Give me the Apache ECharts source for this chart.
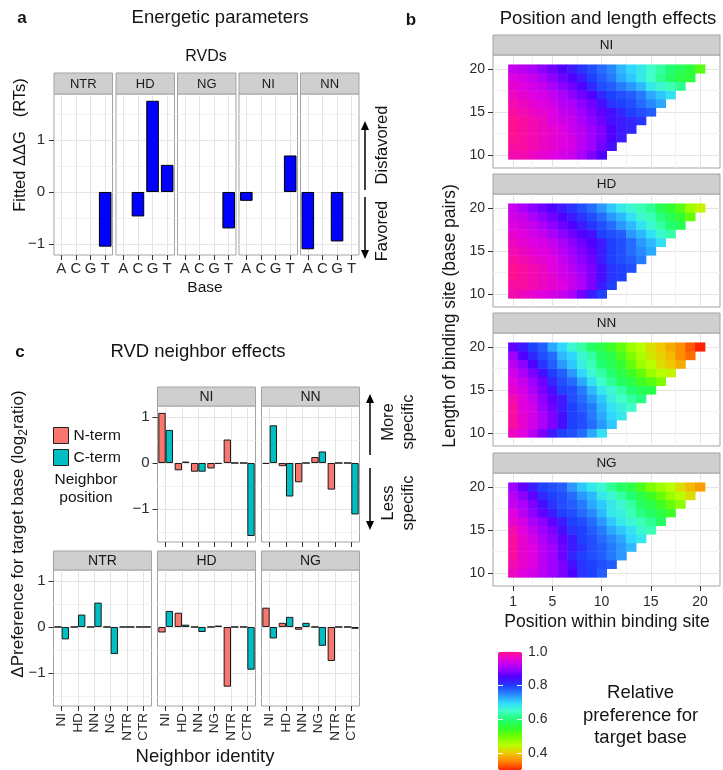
<!DOCTYPE html>
<html><head><meta charset="utf-8">
<script src="https://cdn.jsdelivr.net/npm/echarts@6/dist/echarts.min.js"></script>
<style>html,body{margin:0;padding:0;background:#fff}#c{width:723px;height:770px}</style>
</head><body><div id="c"></div>
<script>
const FONT = '"Liberation Sans", Arial, Helvetica, sans-serif';

// ---------- Panel a: fitted ddG per RVD (bases A,C,G,T) ----------
const bases = ['A','C','G','T'];
const rvdsA = ['NTR','HD','NG','NI','NN'];
const ddgNTR = [null, null, null, -1.05];
const ddgHD  = [null, -0.47, 1.75, 0.52];
const ddgNG  = [null, null, null, -0.70];
const ddgNI  = [-0.17, null, null, 0.70];
const ddgNN  = [-1.10, null, -0.95, null];
const aTicks = [-1, 0, 1];

// ---------- Panel c: neighbor effects ----------
const neighbors = ['NI','HD','NN','NG','NTR','CTR'];
const nNI  = [1.09, -0.16, -0.19, -0.12, 0.51, 0];
const cNI  = [0.72, 0.03, -0.19, -0.02, 0, -1.59];
const nNN  = [-0.02, -0.07, -0.42, 0.13, -0.58, 0];
const cNN  = [0.82, -0.73, 0, 0.25, 0, -1.12];
const nNTR = [0, 0, 0, 0, 0, 0];
const cNTR = [-0.27, 0.27, 0.53, -0.59, 0, 0];
const nHD  = [-0.12, 0.31, 0, 0, -1.30, 0];
const cHD  = [0.35, 0.05, -0.11, 0.03, 0, -0.93];
const nNG  = [0.42, 0.09, -0.06, 0, -0.74, 0];
const cNG  = [-0.25, 0.22, 0.09, -0.41, 0, -0.04];
const cTicks = [-1, 0, 1];

// ---------- Panel b: relative preference; rows = length 10..20, cols = position 1..length ----------
const heatNI = [
 [0.98,0.98,0.97,0.96,0.95,0.94,0.93,0.91,0.88,0.85],
 [0.99,0.99,0.98,0.97,0.96,0.95,0.94,0.92,0.90,0.87,0.84],
 [1.00,0.99,0.98,0.97,0.96,0.95,0.94,0.92,0.90,0.88,0.85,0.83],
 [1.00,0.99,0.98,0.97,0.96,0.95,0.93,0.92,0.90,0.88,0.85,0.83,0.82],
 [1.00,0.99,0.98,0.97,0.95,0.94,0.93,0.91,0.89,0.87,0.84,0.83,0.82,0.81],
 [0.99,0.98,0.97,0.96,0.95,0.93,0.92,0.90,0.88,0.86,0.84,0.82,0.80,0.79,0.78],
 [0.98,0.97,0.96,0.95,0.94,0.92,0.91,0.89,0.87,0.84,0.81,0.80,0.79,0.77,0.75,0.73],
 [0.97,0.96,0.95,0.94,0.93,0.91,0.89,0.87,0.85,0.82,0.80,0.79,0.78,0.76,0.73,0.71,0.69],
 [0.96,0.95,0.94,0.93,0.91,0.89,0.87,0.85,0.82,0.79,0.78,0.76,0.74,0.72,0.68,0.66,0.64,0.62],
 [0.95,0.94,0.93,0.91,0.89,0.87,0.85,0.83,0.80,0.78,0.76,0.73,0.71,0.68,0.65,0.62,0.59,0.57,0.56],
 [0.93,0.92,0.91,0.89,0.87,0.85,0.83,0.81,0.79,0.77,0.75,0.72,0.70,0.68,0.65,0.63,0.60,0.58,0.56,0.52]
];
const heatHD = [
 [0.98,0.97,0.96,0.95,0.94,0.93,0.91,0.87,0.83,0.80],
 [0.99,0.99,0.98,0.97,0.96,0.95,0.93,0.91,0.88,0.83,0.80],
 [1.00,0.99,0.98,0.97,0.96,0.94,0.93,0.91,0.88,0.84,0.81,0.80],
 [1.00,0.99,0.98,0.97,0.95,0.94,0.92,0.90,0.88,0.84,0.81,0.80,0.79],
 [0.99,0.98,0.97,0.96,0.95,0.93,0.91,0.89,0.87,0.83,0.80,0.79,0.78,0.76],
 [0.98,0.97,0.96,0.95,0.94,0.92,0.90,0.88,0.86,0.83,0.80,0.79,0.77,0.75,0.73],
 [0.97,0.96,0.95,0.94,0.93,0.91,0.89,0.87,0.85,0.83,0.80,0.79,0.77,0.74,0.72,0.69],
 [0.96,0.95,0.94,0.93,0.91,0.89,0.87,0.85,0.84,0.80,0.79,0.78,0.74,0.72,0.69,0.66,0.63],
 [0.95,0.94,0.93,0.91,0.89,0.87,0.85,0.83,0.81,0.79,0.77,0.74,0.72,0.69,0.66,0.63,0.60,0.58],
 [0.94,0.93,0.91,0.89,0.87,0.85,0.83,0.81,0.79,0.77,0.74,0.72,0.69,0.66,0.64,0.61,0.58,0.55,0.51],
 [0.93,0.91,0.89,0.87,0.85,0.83,0.81,0.79,0.77,0.74,0.71,0.68,0.66,0.64,0.62,0.58,0.55,0.52,0.47,0.44]
];
const heatNN = [
 [0.97,0.95,0.92,0.88,0.83,0.80,0.79,0.77,0.73,0.69],
 [0.99,0.96,0.94,0.91,0.88,0.84,0.80,0.79,0.77,0.74,0.71],
 [0.99,0.96,0.94,0.91,0.88,0.84,0.80,0.79,0.76,0.73,0.70,0.68],
 [0.99,0.95,0.94,0.90,0.87,0.83,0.80,0.78,0.76,0.72,0.69,0.67,0.65],
 [0.98,0.95,0.93,0.89,0.86,0.83,0.79,0.77,0.74,0.71,0.67,0.65,0.63,0.61],
 [0.96,0.94,0.91,0.88,0.84,0.80,0.79,0.76,0.72,0.68,0.66,0.63,0.60,0.58,0.57],
 [0.95,0.93,0.90,0.87,0.82,0.79,0.77,0.73,0.69,0.65,0.62,0.59,0.57,0.54,0.52,0.49],
 [0.94,0.91,0.88,0.84,0.80,0.78,0.74,0.70,0.66,0.63,0.60,0.57,0.54,0.51,0.47,0.45,0.44],
 [0.92,0.89,0.85,0.81,0.78,0.74,0.71,0.67,0.64,0.60,0.58,0.55,0.51,0.47,0.45,0.42,0.40,0.38],
 [0.90,0.85,0.82,0.79,0.77,0.72,0.70,0.66,0.63,0.59,0.57,0.53,0.49,0.46,0.43,0.41,0.39,0.36,0.34],
 [0.86,0.83,0.80,0.78,0.73,0.70,0.66,0.63,0.59,0.57,0.54,0.51,0.47,0.45,0.42,0.40,0.38,0.36,0.33,0.30]
];
const heatNG = [
 [0.97,0.95,0.94,0.92,0.90,0.88,0.85,0.81,0.80,0.78],
 [0.98,0.96,0.95,0.92,0.90,0.88,0.84,0.81,0.80,0.79,0.78],
 [0.99,0.96,0.95,0.92,0.90,0.87,0.82,0.80,0.79,0.78,0.76,0.74],
 [0.99,0.96,0.95,0.92,0.90,0.87,0.83,0.81,0.79,0.78,0.76,0.74,0.72],
 [0.99,0.96,0.94,0.91,0.89,0.86,0.83,0.80,0.79,0.77,0.75,0.73,0.70,0.68],
 [0.98,0.95,0.93,0.90,0.88,0.84,0.81,0.80,0.78,0.76,0.73,0.71,0.69,0.66,0.64],
 [0.96,0.94,0.91,0.89,0.86,0.83,0.80,0.79,0.77,0.74,0.71,0.68,0.66,0.64,0.62,0.59],
 [0.95,0.92,0.89,0.86,0.83,0.80,0.79,0.77,0.75,0.72,0.68,0.67,0.64,0.61,0.59,0.57,0.54],
 [0.93,0.91,0.88,0.84,0.81,0.79,0.78,0.76,0.73,0.71,0.68,0.66,0.63,0.59,0.57,0.54,0.51,0.48],
 [0.92,0.89,0.86,0.82,0.80,0.79,0.77,0.74,0.72,0.68,0.66,0.63,0.60,0.57,0.54,0.51,0.47,0.45,0.42],
 [0.90,0.86,0.83,0.80,0.79,0.78,0.74,0.71,0.68,0.66,0.62,0.59,0.57,0.53,0.49,0.47,0.45,0.42,0.39,0.37]
];
const lengths = [10,11,12,13,14,15,16,17,18,19,20];
const posTicks = [1,5,10,15,20];
const lenTicks = [10,15,20];
const barTicks = [0.4,0.6,0.8,1.0];
const RAMP = ['#ff2000','#ff8000','#f0c800','#b8ff00','#70ff00','#30ff30','#20ff70','#40ffc8',
              '#30d8ff','#2888ff','#2040ff','#5000ff','#a000ff','#e000e0','#ff1090'];

// ---------- styling ----------
const BORDER = '#a3a3a3', STRIP = '#cfcfcf', GRIDMAJ = '#e4e4e4', GRIDMIN = '#f2f2f2';
const TICK = '#333', LABEL = '#2b2b2b';
const grids = [], xAxes = [], yAxes = [], series = [], gfx = [];
const fmtNum = v => (v < 0 ? '\u2212' + Math.abs(v) : String(v));

function textEl(x, y, text, size, o) {
  o = o || {};
  const st = {text: text, fontSize: size, fontFamily: FONT, fill: o.color || '#141414',
    align: o.align || 'center', verticalAlign: 'middle', fontWeight: o.bold ? 'bold' : 'normal'};
  if (o.lh) st.lineHeight = o.lh;
  if (o.rich) st.rich = o.rich;
  return {type: 'text', x: x, y: y, rotation: o.rot || 0, z: 100, silent: true, style: st};
}
function strip(l, t, w, h, label, size) {
  gfx.push({type: 'rect', z: 50, silent: true, shape: {x: l, y: t, width: w, height: h},
    style: {fill: STRIP, stroke: BORDER, lineWidth: 1}});
  gfx.push(textEl(l + w / 2, t + h / 2 + 0.5, label, size, {color: '#1a1a1a'}));
}
function arrow(x, yTail, yTip) {
  const d = yTip < yTail ? -1 : 1;
  gfx.push({type: 'line', silent: true, shape: {x1: x, y1: yTail, x2: x, y2: yTip - d * 6}, style: {stroke: '#000', lineWidth: 1.5}});
  gfx.push({type: 'polygon', silent: true, shape: {points: [[x, yTip], [x - 4, yTip - d * 9], [x + 4, yTip - d * 9]]}, style: {fill: '#000'}});
}
function addGrid(l, t, w, h, show) {
  grids.push({left: l, top: t, width: w, height: h, show: show !== false, borderColor: BORDER, borderWidth: 1,
    backgroundColor: '#fff', containLabel: false, outerBoundsMode: 'none'});
  return grids.length - 1;
}
function addValueAxes(dim, gi, min, max, major, minor, o) {
  const list = dim === 'x' ? xAxes : yAxes;
  list.push({type: 'value', gridIndex: gi, min: min, max: max, position: dim === 'x' ? 'bottom' : 'left',
    axisLine: {show: false, onZero: false},
    axisTick: {show: !!o.tick, customValues: major, length: o.tickLen || 4, lineStyle: {color: TICK}},
    axisLabel: {show: !!o.label, customValues: major, formatter: o.fmt || fmtNum, fontSize: o.fs || 14,
      color: LABEL, margin: o.margin || 6, fontFamily: FONT},
    splitLine: {show: true, lineStyle: {color: GRIDMAJ, width: 1}}});
  const idx = list.length - 1;
  list.push({type: 'value', gridIndex: gi, min: min, max: max, position: dim === 'x' ? 'top' : 'right',
    axisLine: {show: false, onZero: false}, axisTick: {show: false, customValues: minor}, axisLabel: {show: false},
    splitLine: {show: true, lineStyle: {color: GRIDMIN, width: 1}}});
  return idx;
}
function addCatAxis(gi, cats, o) {
  xAxes.push({type: 'category', gridIndex: gi, data: cats, boundaryGap: true, position: 'bottom',
    axisLine: {show: false, onZero: false},
    axisTick: {show: true, alignWithLabel: true, length: o.tickLen || 4, lineStyle: {color: TICK}},
    axisLabel: {show: !!o.label, interval: 0, rotate: o.rot || 0, fontSize: o.fs || 14, color: LABEL,
      margin: o.margin || 6, fontFamily: FONT},
    splitLine: {show: false}});
  const idx = xAxes.length - 1;
  const centers = cats.map((_, i) => i);
  xAxes.push({type: 'value', gridIndex: gi, min: -0.5, max: cats.length - 0.5, position: 'top',
    axisLine: {show: false, onZero: false}, axisTick: {show: false, customValues: centers}, axisLabel: {show: false},
    splitLine: {show: true, lineStyle: {color: GRIDMAJ, width: 1}}});
  return idx;
}

// ---------- Panel a ----------
const aData = [ddgNTR, ddgHD, ddgNG, ddgNI, ddgNN];
const aLefts = [54, 116, 177.5, 239, 300.5], aW = 58.5, aTop = 94, aH = 161;
rvdsA.forEach((name, i) => {
  const gi = addGrid(aLefts[i], aTop, aW, aH);
  const xi = addCatAxis(gi, bases, {label: true, fs: 15, margin: 6, tickLen: 5});
  const yi = addValueAxes('y', gi, -1.21, 1.88, aTicks, [-0.5, 0.5, 1.5],
    {label: i === 0, tick: i === 0, fs: 15, margin: 9, tickLen: 5});
  series.push({type: 'bar', name: 'ddG ' + name, xAxisIndex: xi, yAxisIndex: yi, data: aData[i], barWidth: '86%',
    silent: true, itemStyle: {color: '#0000ff', borderColor: '#000', borderWidth: 1}});
  strip(aLefts[i], 73, aW, 21, name, 13);
});

// ---------- Panel c ----------
const cCols = [53.5, 157.5, 261.5], cW = 98, cRowTop = [406, 570], cH = 136;
const cPanels = [
  {name: 'NI', col: 1, row: 0, n: nNI, c: cNI},
  {name: 'NN', col: 2, row: 0, n: nNN, c: cNN},
  {name: 'NTR', col: 0, row: 1, n: nNTR, c: cNTR},
  {name: 'HD', col: 1, row: 1, n: nHD, c: cHD},
  {name: 'NG', col: 2, row: 1, n: nNG, c: cNG}
];
cPanels.forEach(p => {
  const l = cCols[p.col], t = cRowTop[p.row];
  const gi = addGrid(l, t, cW, cH);
  const xi = addCatAxis(gi, neighbors, {label: p.row === 1, rot: 90, fs: 13.5, margin: 7, tickLen: 5});
  const firstCol = (p.row === 0 && p.col === 1) || (p.row === 1 && p.col === 0);
  const yi = addValueAxes('y', gi, -1.72, 1.24, cTicks, [-1.5, -0.5, 0.5],
    {label: firstCol, tick: firstCol, fs: 15, margin: 8, tickLen: 5});
  const bs = {type: 'bar', xAxisIndex: xi, yAxisIndex: yi, barWidth: '45%', barGap: '0%', silent: true};
  series.push(Object.assign({}, bs, {name: 'N-term', data: p.n, itemStyle: {color: '#f8766d', borderColor: '#1a1a1a', borderWidth: 1}}));
  series.push(Object.assign({}, bs, {name: 'C-term', data: p.c, itemStyle: {color: '#00bfc4', borderColor: '#1a1a1a', borderWidth: 1}}));
  strip(l, t - 19, cW, 19, p.name, 14);
});

// ---------- Panel b ----------
const bPanels = [{name: 'NI', rows: heatNI}, {name: 'HD', rows: heatHD}, {name: 'NN', rows: heatNN}, {name: 'NG', rows: heatNG}];
const bTops = [55, 194, 333, 473], bL = 493, bW = 227, bH = 113;
const heatIdx = [];
function renderCell(params, api) {
  const x = api.value(0), y = api.value(1);
  const p1 = api.coord([x - 0.5, y + 0.5]), p2 = api.coord([x + 0.5, y - 0.5]);
  return {type: 'rect', shape: {x: p1[0], y: p1[1], width: p2[0] - p1[0] + 0.5, height: p2[1] - p1[1] + 0.5},
    style: {fill: api.visual('color')}};
}
bPanels.forEach((p, i) => {
  const gi = addGrid(bL, bTops[i], bW, bH);
  const last = i === bPanels.length - 1;
  const xi = addValueAxes('x', gi, -1.04, 22.04, posTicks, [3, 7.5, 12.5, 17.5],
    {label: last, tick: last, fs: 14, margin: 9, tickLen: 5, fmt: v => String(v)});
  const yi = addValueAxes('y', gi, 8.47, 21.6, lenTicks, [12.5, 17.5],
    {label: true, tick: true, fs: 14, margin: 8, tickLen: 5, fmt: v => String(v)});
  const data = [];
  p.rows.forEach((row, r) => row.forEach((v, k) => data.push([k + 1, lengths[r], v])));
  series.push({type: 'custom', name: 'heat ' + p.name, coordinateSystem: 'cartesian2d', xAxisIndex: xi, yAxisIndex: yi,
    renderItem: renderCell, encode: {x: 0, y: 1}, data: data, silent: true, z: 3});
  heatIdx.push(series.length - 1);
  strip(bL, bTops[i] - 20, bW, 20, p.name, 13.5);
});

// ---------- colour bar axis ----------
const cbTop = 651.7, cbH = 118.7;
{
  const gi = addGrid(498, cbTop, 24, cbH, false);
  xAxes.push({type: 'value', gridIndex: gi, show: false, min: 0, max: 1});
  yAxes.push({type: 'value', gridIndex: gi, min: 0.3, max: 1.0, position: 'right', z: 10,
    axisLine: {show: false, onZero: false},
    axisTick: {show: true, inside: true, length: 5, customValues: barTicks, lineStyle: {color: '#fff'}},
    axisLabel: {show: true, customValues: barTicks, formatter: v => v.toFixed(1), fontSize: 14, color: LABEL, margin: 6, fontFamily: FONT},
    splitLine: {show: false}});
  yAxes.push({type: 'value', gridIndex: gi, min: 0.3, max: 1.0, position: 'left', z: 10,
    axisLine: {show: false, onZero: false},
    axisTick: {show: true, inside: true, length: 5, customValues: barTicks, lineStyle: {color: '#fff'}},
    axisLabel: {show: false}, splitLine: {show: false}});
}

// ---------- texts ----------
gfx.push(textEl(22, 18, 'a', 17, {bold: true}));
gfx.push(textEl(220, 18, 'Energetic parameters', 18.5));
gfx.push(textEl(206, 57, 'RVDs', 16));
gfx.push(textEl(205, 288, 'Base', 15.5));
gfx.push(textEl(20.5, 145, 'Fitted \u0394\u0394G   (RTs)', 16.5, {rot: Math.PI / 2}));
gfx.push(textEl(382.5, 145, 'Disfavored', 16.5, {rot: Math.PI / 2}));
gfx.push(textEl(382.5, 231, 'Favored', 16.5, {rot: Math.PI / 2}));
arrow(365, 190, 121);
arrow(365, 197, 259);

gfx.push(textEl(411, 20, 'b', 17, {bold: true}));
gfx.push(textEl(608, 19, 'Position and length effects', 18.5));
gfx.push(textEl(450, 316, 'Length of binding site (base pairs)', 17.5, {rot: Math.PI / 2}));
gfx.push(textEl(607, 622, 'Position within binding site', 17.5));
gfx.push(textEl(640.5, 715.5, 'Relative\npreference for\ntarget base', 18.5, {lh: 22.5}));

gfx.push(textEl(20, 352, 'c', 17, {bold: true}));
gfx.push(textEl(198, 352, 'RVD neighbor effects', 18.5));
gfx.push(textEl(86, 488.5, 'Neighbor\nposition', 15.5, {lh: 17.5}));
gfx.push(textEl(205, 757, 'Neighbor identity', 18.5));
gfx.push(textEl(18, 534, '{n|\u0394Preference for target base (log}{s|2}{n|ratio)}', 17, {rot: Math.PI / 2,
  rich: {n: {fontSize: 17, fontFamily: FONT, fill: '#141414', lineHeight: 24, verticalAlign: 'middle'},
         s: {fontSize: 12, fontFamily: FONT, fill: '#141414', lineHeight: 24, verticalAlign: 'bottom'}}}));
gfx.push(textEl(388, 422, 'More', 16.5, {rot: Math.PI / 2}));
gfx.push(textEl(408, 422, 'specific', 16.5, {rot: Math.PI / 2}));
gfx.push(textEl(388, 503, 'Less', 16.5, {rot: Math.PI / 2}));
gfx.push(textEl(408, 503, 'specific', 16.5, {rot: Math.PI / 2}));
arrow(370, 455, 394);
arrow(370, 468, 530);

const option = {
  animation: false,
  backgroundColor: '#fff',
  textStyle: {fontFamily: FONT},
  grid: grids, xAxis: xAxes, yAxis: yAxes, series: series, graphic: gfx,
  legend: {data: ['N-term', 'C-term'], left: 53, top: 427, orient: 'vertical', itemWidth: 15, itemHeight: 16,
    itemGap: 5, padding: 0, icon: 'rect', selectedMode: false,
    itemStyle: {borderColor: '#222', borderWidth: 1},
    textStyle: {fontSize: 15.5, color: '#141414', fontFamily: FONT}},
  visualMap: [{type: 'continuous', min: 0.3, max: 1.0, dimension: 2, seriesIndex: heatIdx,
    left: 498, top: cbTop, itemWidth: 24, itemHeight: cbH, orient: 'vertical', calculable: false,
    text: null, padding: 0, hoverLink: false, inRange: {color: RAMP}}]
};
const chart = echarts.init(document.getElementById('c'), null, {renderer: 'canvas'});
chart.setOption(option);
</script></body></html>
